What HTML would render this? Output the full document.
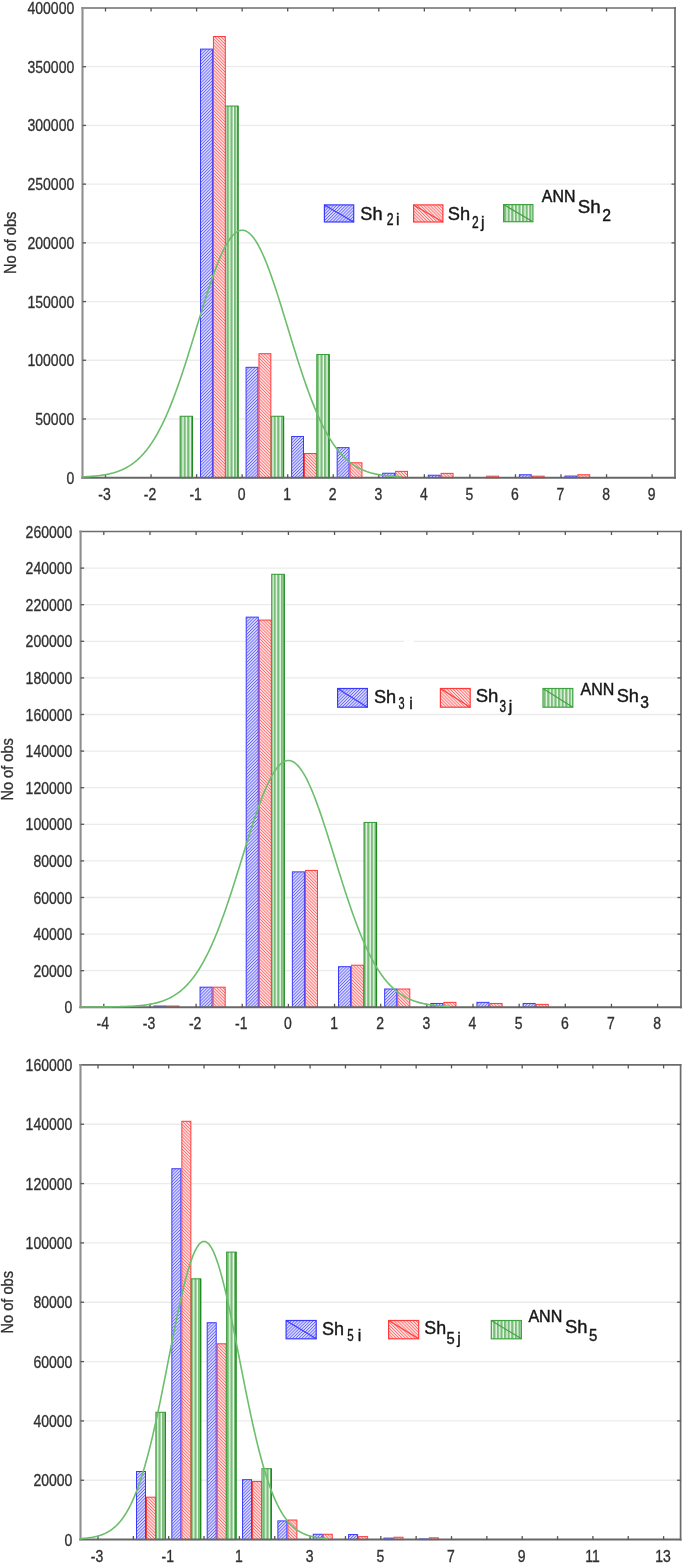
<!DOCTYPE html>
<html><head><meta charset="utf-8"><title>Histograms</title>
<style>html,body{margin:0;padding:0;background:#fff;}body{width:685px;height:1564px;overflow:hidden;}svg{display:block;filter:blur(0.45px);}text{font-family:"Liberation Sans", sans-serif;}</style>
</head><body>
<svg width="685" height="1564" viewBox="0 0 685 1564">
<defs>
<pattern id="pb" patternUnits="userSpaceOnUse" width="2.2" height="4" patternTransform="rotate(45)"><rect width="2.2" height="4" fill="#dcdcff"/><rect width="0.8" height="4" fill="#6262ff"/></pattern>
<pattern id="pr" patternUnits="userSpaceOnUse" width="2.2" height="4" patternTransform="rotate(-45)"><rect width="2.2" height="4" fill="#ffe2e2"/><rect width="0.8" height="4" fill="#ff6a6a"/></pattern>
<pattern id="pg" patternUnits="userSpaceOnUse" width="3.6" height="4"><rect width="3.6" height="4" fill="#f6fbf6"/><rect width="2.3" height="4" fill="#78be78"/></pattern>
</defs>
<rect x="0" y="0" width="685" height="1564" fill="#ffffff"/>
<line x1="82.5" y1="418.99" x2="675" y2="418.99" stroke="#ebebeb" stroke-width="1.3"/>
<line x1="82.5" y1="360.27" x2="675" y2="360.27" stroke="#ebebeb" stroke-width="1.3"/>
<line x1="82.5" y1="301.56" x2="675" y2="301.56" stroke="#ebebeb" stroke-width="1.3"/>
<line x1="82.5" y1="242.85" x2="675" y2="242.85" stroke="#ebebeb" stroke-width="1.3"/>
<line x1="82.5" y1="184.14" x2="675" y2="184.14" stroke="#ebebeb" stroke-width="1.3"/>
<line x1="82.5" y1="125.43" x2="675" y2="125.43" stroke="#ebebeb" stroke-width="1.3"/>
<line x1="82.5" y1="66.71" x2="675" y2="66.71" stroke="#ebebeb" stroke-width="1.3"/>
<rect x="180.15" y="416.29" width="12.29" height="61.41" fill="url(#pg)" stroke="#3f9f3f" stroke-width="1.1"/>
<line x1="192.44" y1="416.29" x2="192.44" y2="477.7" stroke="#1f8a1f" stroke-width="1.2"/>
<rect x="200.52" y="49.1" width="11.89" height="428.6" fill="url(#pb)" stroke="#3a3aff" stroke-width="1"/>
<rect x="213.41" y="36.53" width="11.89" height="441.17" fill="url(#pr)" stroke="#ff3a3a" stroke-width="1"/>
<rect x="225.7" y="106.05" width="12.29" height="371.65" fill="url(#pg)" stroke="#3f9f3f" stroke-width="1.1"/>
<line x1="237.99" y1="106.05" x2="237.99" y2="477.7" stroke="#1f8a1f" stroke-width="1.2"/>
<rect x="246.07" y="367.32" width="11.89" height="110.38" fill="url(#pb)" stroke="#3a3aff" stroke-width="1"/>
<rect x="258.96" y="353.7" width="11.89" height="124" fill="url(#pr)" stroke="#ff3a3a" stroke-width="1"/>
<rect x="271.25" y="416.29" width="12.29" height="61.41" fill="url(#pg)" stroke="#3f9f3f" stroke-width="1.1"/>
<line x1="283.54" y1="416.29" x2="283.54" y2="477.7" stroke="#1f8a1f" stroke-width="1.2"/>
<rect x="291.62" y="436.48" width="11.89" height="41.22" fill="url(#pb)" stroke="#3a3aff" stroke-width="1"/>
<rect x="304.51" y="453.51" width="11.89" height="24.19" fill="url(#pr)" stroke="#ff3a3a" stroke-width="1"/>
<rect x="316.8" y="354.52" width="12.29" height="123.18" fill="url(#pg)" stroke="#3f9f3f" stroke-width="1.1"/>
<line x1="329.09" y1="354.52" x2="329.09" y2="477.7" stroke="#1f8a1f" stroke-width="1.2"/>
<rect x="337.17" y="447.64" width="11.89" height="30.06" fill="url(#pb)" stroke="#3a3aff" stroke-width="1"/>
<rect x="350.06" y="462.79" width="11.89" height="14.91" fill="url(#pr)" stroke="#ff3a3a" stroke-width="1"/>
<rect x="382.72" y="473.24" width="11.89" height="4.46" fill="url(#pb)" stroke="#3a3aff" stroke-width="1"/>
<rect x="395.61" y="471.36" width="11.89" height="6.34" fill="url(#pr)" stroke="#ff3a3a" stroke-width="1"/>
<rect x="428.27" y="475.23" width="11.89" height="2.47" fill="url(#pb)" stroke="#3a3aff" stroke-width="1"/>
<rect x="441.16" y="473.36" width="11.89" height="4.34" fill="url(#pr)" stroke="#ff3a3a" stroke-width="1"/>
<rect x="486.71" y="476.17" width="11.89" height="1.53" fill="url(#pr)" stroke="#ff3a3a" stroke-width="1"/>
<rect x="519.37" y="474.76" width="11.89" height="2.94" fill="url(#pb)" stroke="#3a3aff" stroke-width="1"/>
<rect x="532.26" y="476.17" width="11.89" height="1.53" fill="url(#pr)" stroke="#ff3a3a" stroke-width="1"/>
<rect x="564.92" y="476.06" width="11.89" height="1.64" fill="url(#pb)" stroke="#3a3aff" stroke-width="1"/>
<rect x="577.81" y="474.76" width="11.89" height="2.94" fill="url(#pr)" stroke="#ff3a3a" stroke-width="1"/>
<line x1="81.3" y1="8" x2="675.8" y2="8" stroke="#6c6c6c" stroke-width="1.6"/>
<line x1="675" y1="7.1" x2="675" y2="478.7" stroke="#6a6a6a" stroke-width="1.7"/>
<line x1="81.3" y1="477.7" x2="675.85" y2="477.7" stroke="#676767" stroke-width="2"/>
<line x1="82.5" y1="7.1" x2="82.5" y2="478.7" stroke="#8e8e8e" stroke-width="2.1"/>
<line x1="105.5" y1="477.7" x2="105.5" y2="474.2" stroke="#555" stroke-width="1.3"/>
<line x1="105.5" y1="8" x2="105.5" y2="11.5" stroke="#555" stroke-width="1.3"/>
<line x1="151.05" y1="477.7" x2="151.05" y2="474.2" stroke="#555" stroke-width="1.3"/>
<line x1="151.05" y1="8" x2="151.05" y2="11.5" stroke="#555" stroke-width="1.3"/>
<line x1="196.6" y1="477.7" x2="196.6" y2="474.2" stroke="#555" stroke-width="1.3"/>
<line x1="196.6" y1="8" x2="196.6" y2="11.5" stroke="#555" stroke-width="1.3"/>
<line x1="242.15" y1="477.7" x2="242.15" y2="474.2" stroke="#555" stroke-width="1.3"/>
<line x1="242.15" y1="8" x2="242.15" y2="11.5" stroke="#555" stroke-width="1.3"/>
<line x1="287.7" y1="477.7" x2="287.7" y2="474.2" stroke="#555" stroke-width="1.3"/>
<line x1="287.7" y1="8" x2="287.7" y2="11.5" stroke="#555" stroke-width="1.3"/>
<line x1="333.25" y1="477.7" x2="333.25" y2="474.2" stroke="#555" stroke-width="1.3"/>
<line x1="333.25" y1="8" x2="333.25" y2="11.5" stroke="#555" stroke-width="1.3"/>
<line x1="378.8" y1="477.7" x2="378.8" y2="474.2" stroke="#555" stroke-width="1.3"/>
<line x1="378.8" y1="8" x2="378.8" y2="11.5" stroke="#555" stroke-width="1.3"/>
<line x1="424.35" y1="477.7" x2="424.35" y2="474.2" stroke="#555" stroke-width="1.3"/>
<line x1="424.35" y1="8" x2="424.35" y2="11.5" stroke="#555" stroke-width="1.3"/>
<line x1="469.9" y1="477.7" x2="469.9" y2="474.2" stroke="#555" stroke-width="1.3"/>
<line x1="469.9" y1="8" x2="469.9" y2="11.5" stroke="#555" stroke-width="1.3"/>
<line x1="515.45" y1="477.7" x2="515.45" y2="474.2" stroke="#555" stroke-width="1.3"/>
<line x1="515.45" y1="8" x2="515.45" y2="11.5" stroke="#555" stroke-width="1.3"/>
<line x1="561" y1="477.7" x2="561" y2="474.2" stroke="#555" stroke-width="1.3"/>
<line x1="561" y1="8" x2="561" y2="11.5" stroke="#555" stroke-width="1.3"/>
<line x1="606.55" y1="477.7" x2="606.55" y2="474.2" stroke="#555" stroke-width="1.3"/>
<line x1="606.55" y1="8" x2="606.55" y2="11.5" stroke="#555" stroke-width="1.3"/>
<line x1="652.1" y1="477.7" x2="652.1" y2="474.2" stroke="#555" stroke-width="1.3"/>
<line x1="652.1" y1="8" x2="652.1" y2="11.5" stroke="#555" stroke-width="1.3"/>
<line x1="82.5" y1="418.99" x2="86" y2="418.99" stroke="#555" stroke-width="1.3"/>
<line x1="675" y1="418.99" x2="671.5" y2="418.99" stroke="#555" stroke-width="1.3"/>
<line x1="82.5" y1="360.27" x2="86" y2="360.27" stroke="#555" stroke-width="1.3"/>
<line x1="675" y1="360.27" x2="671.5" y2="360.27" stroke="#555" stroke-width="1.3"/>
<line x1="82.5" y1="301.56" x2="86" y2="301.56" stroke="#555" stroke-width="1.3"/>
<line x1="675" y1="301.56" x2="671.5" y2="301.56" stroke="#555" stroke-width="1.3"/>
<line x1="82.5" y1="242.85" x2="86" y2="242.85" stroke="#555" stroke-width="1.3"/>
<line x1="675" y1="242.85" x2="671.5" y2="242.85" stroke="#555" stroke-width="1.3"/>
<line x1="82.5" y1="184.14" x2="86" y2="184.14" stroke="#555" stroke-width="1.3"/>
<line x1="675" y1="184.14" x2="671.5" y2="184.14" stroke="#555" stroke-width="1.3"/>
<line x1="82.5" y1="125.43" x2="86" y2="125.43" stroke="#555" stroke-width="1.3"/>
<line x1="675" y1="125.43" x2="671.5" y2="125.43" stroke="#555" stroke-width="1.3"/>
<line x1="82.5" y1="66.71" x2="86" y2="66.71" stroke="#555" stroke-width="1.3"/>
<line x1="675" y1="66.71" x2="671.5" y2="66.71" stroke="#555" stroke-width="1.3"/>
<polyline points="82.72,476.86 83.52,476.83 84.32,476.79 85.12,476.75 85.91,476.71 86.71,476.67 87.51,476.62 88.3,476.58 89.1,476.53 89.9,476.47 90.7,476.42 91.49,476.36 92.29,476.3 93.09,476.23 93.88,476.16 94.68,476.09 95.48,476.01 96.28,475.93 97.07,475.85 97.87,475.76 98.67,475.67 99.46,475.57 100.26,475.47 101.06,475.36 101.86,475.25 102.65,475.13 103.45,475 104.25,474.87 105.04,474.74 105.84,474.59 106.64,474.44 107.44,474.28 108.23,474.12 109.03,473.95 109.83,473.77 110.62,473.58 111.42,473.38 112.22,473.17 113.02,472.96 113.81,472.73 114.61,472.5 115.41,472.25 116.2,471.99 117,471.73 117.8,471.45 118.6,471.16 119.39,470.86 120.19,470.54 120.99,470.21 121.78,469.87 122.58,469.52 123.38,469.15 124.18,468.76 124.97,468.36 125.77,467.95 126.57,467.52 127.36,467.07 128.16,466.61 128.96,466.13 129.76,465.63 130.55,465.11 131.35,464.57 132.15,464.02 132.94,463.44 133.74,462.85 134.54,462.23 135.34,461.59 136.13,460.93 136.93,460.25 137.73,459.54 138.52,458.82 139.32,458.06 140.12,457.29 140.92,456.49 141.71,455.66 142.51,454.81 143.31,453.93 144.1,453.03 144.9,452.09 145.7,451.14 146.5,450.15 147.29,449.13 148.09,448.09 148.89,447.01 149.68,445.91 150.48,444.78 151.28,443.61 152.07,442.42 152.87,441.19 153.67,439.93 154.47,438.64 155.26,437.32 156.06,435.97 156.86,434.58 157.65,433.16 158.45,431.71 159.25,430.22 160.05,428.7 160.84,427.15 161.64,425.56 162.44,423.94 163.23,422.29 164.03,420.6 164.83,418.88 165.63,417.13 166.42,415.34 167.22,413.51 168.02,411.66 168.81,409.77 169.61,407.85 170.41,405.89 171.21,403.91 172,401.89 172.8,399.84 173.6,397.75 174.39,395.64 175.19,393.5 175.99,391.32 176.79,389.12 177.58,386.89 178.38,384.63 179.18,382.34 179.97,380.03 180.77,377.69 181.57,375.33 182.37,372.94 183.16,370.53 183.96,368.1 184.76,365.64 185.55,363.17 186.35,360.68 187.15,358.17 187.95,355.64 188.74,353.1 189.54,350.54 190.34,347.97 191.13,345.39 191.93,342.79 192.73,340.19 193.53,337.58 194.32,334.97 195.12,332.35 195.92,329.73 196.71,327.1 197.51,324.48 198.31,321.86 199.11,319.24 199.9,316.63 200.7,314.02 201.5,311.43 202.29,308.84 203.09,306.26 203.89,303.7 204.69,301.16 205.48,298.63 206.28,296.12 207.08,293.63 207.87,291.17 208.67,288.73 209.47,286.32 210.26,283.93 211.06,281.58 211.86,279.25 212.66,276.97 213.45,274.71 214.25,272.5 215.05,270.32 215.84,268.19 216.64,266.09 217.44,264.04 218.24,262.04 219.03,260.09 219.83,258.18 220.63,256.33 221.42,254.53 222.22,252.78 223.02,251.09 223.82,249.45 224.61,247.88 225.41,246.36 226.21,244.91 227,243.51 227.8,242.18 228.6,240.92 229.4,239.72 230.19,238.59 230.99,237.53 231.79,236.53 232.58,235.61 233.38,234.76 234.18,233.98 234.98,233.27 235.77,232.63 236.57,232.07 237.37,231.58 238.16,231.16 238.96,230.83 239.76,230.56 240.56,230.37 241.35,230.26 242.15,230.22 242.95,230.26 243.74,230.37 244.54,230.56 245.34,230.83 246.14,231.16 246.93,231.58 247.73,232.07 248.53,232.63 249.32,233.27 250.12,233.98 250.92,234.76 251.72,235.61 252.51,236.53 253.31,237.53 254.11,238.59 254.9,239.72 255.7,240.92 256.5,242.18 257.3,243.51 258.09,244.91 258.89,246.36 259.69,247.88 260.48,249.45 261.28,251.09 262.08,252.78 262.88,254.53 263.67,256.33 264.47,258.18 265.27,260.09 266.06,262.04 266.86,264.04 267.66,266.09 268.46,268.19 269.25,270.32 270.05,272.5 270.85,274.71 271.64,276.97 272.44,279.25 273.24,281.58 274.03,283.93 274.83,286.32 275.63,288.73 276.43,291.17 277.22,293.63 278.02,296.12 278.82,298.63 279.61,301.16 280.41,303.7 281.21,306.26 282.01,308.84 282.8,311.43 283.6,314.02 284.4,316.63 285.19,319.24 285.99,321.86 286.79,324.48 287.59,327.1 288.38,329.73 289.18,332.35 289.98,334.97 290.77,337.58 291.57,340.19 292.37,342.79 293.17,345.39 293.96,347.97 294.76,350.54 295.56,353.1 296.35,355.64 297.15,358.17 297.95,360.68 298.75,363.17 299.54,365.64 300.34,368.1 301.14,370.53 301.93,372.94 302.73,375.33 303.53,377.69 304.33,380.03 305.12,382.34 305.92,384.63 306.72,386.89 307.51,389.12 308.31,391.32 309.11,393.5 309.91,395.64 310.7,397.75 311.5,399.84 312.3,401.89 313.09,403.91 313.89,405.89 314.69,407.85 315.49,409.77 316.28,411.66 317.08,413.51 317.88,415.34 318.67,417.13 319.47,418.88 320.27,420.6 321.07,422.29 321.86,423.94 322.66,425.56 323.46,427.15 324.25,428.7 325.05,430.22 325.85,431.71 326.65,433.16 327.44,434.58 328.24,435.97 329.04,437.32 329.83,438.64 330.63,439.93 331.43,441.19 332.23,442.42 333.02,443.61 333.82,444.78 334.62,445.91 335.41,447.01 336.21,448.09 337.01,449.13 337.8,450.15 338.6,451.14 339.4,452.09 340.2,453.03 340.99,453.93 341.79,454.81 342.59,455.66 343.38,456.49 344.18,457.29 344.98,458.06 345.78,458.82 346.57,459.54 347.37,460.25 348.17,460.93 348.96,461.59 349.76,462.23 350.56,462.85 351.36,463.44 352.15,464.02 352.95,464.57 353.75,465.11 354.54,465.63 355.34,466.13 356.14,466.61 356.94,467.07 357.73,467.52 358.53,467.95 359.33,468.36 360.12,468.76 360.92,469.15 361.72,469.52 362.52,469.87 363.31,470.21 364.11,470.54 364.91,470.86 365.7,471.16 366.5,471.45 367.3,471.73 368.1,471.99 368.89,472.25 369.69,472.5 370.49,472.73 371.28,472.96 372.08,473.17 372.88,473.38 373.68,473.58 374.47,473.77 375.27,473.95 376.07,474.12 376.86,474.28 377.66,474.44 378.46,474.59 379.26,474.74 380.05,474.87 380.85,475 381.65,475.13 382.44,475.25 383.24,475.36 384.04,475.47 384.84,475.57 385.63,475.67 386.43,475.76 387.23,475.85 388.02,475.93 388.82,476.01 389.62,476.09 390.42,476.16 391.21,476.23 392.01,476.3 392.81,476.36 393.6,476.42 394.4,476.47 395.2,476.53 396,476.58 396.79,476.62 397.59,476.67 398.39,476.71 399.18,476.75 399.98,476.79 400.78,476.83 401.57,476.86" fill="none" stroke="#6cbe6c" stroke-width="1.6"/>
<text x="0" y="5.01" font-size="14" fill="#2e2e2e" stroke="#3a3a3a" stroke-width="0.3" text-anchor="end" transform="translate(74.2,477.7) scale(1,1.2)">0</text>
<text x="0" y="5.01" font-size="14" fill="#2e2e2e" stroke="#3a3a3a" stroke-width="0.3" text-anchor="end" transform="translate(74.2,418.99) scale(1,1.2)">50000</text>
<text x="0" y="5.01" font-size="14" fill="#2e2e2e" stroke="#3a3a3a" stroke-width="0.3" text-anchor="end" transform="translate(74.2,360.27) scale(1,1.2)">100000</text>
<text x="0" y="5.01" font-size="14" fill="#2e2e2e" stroke="#3a3a3a" stroke-width="0.3" text-anchor="end" transform="translate(74.2,301.56) scale(1,1.2)">150000</text>
<text x="0" y="5.01" font-size="14" fill="#2e2e2e" stroke="#3a3a3a" stroke-width="0.3" text-anchor="end" transform="translate(74.2,242.85) scale(1,1.2)">200000</text>
<text x="0" y="5.01" font-size="14" fill="#2e2e2e" stroke="#3a3a3a" stroke-width="0.3" text-anchor="end" transform="translate(74.2,184.14) scale(1,1.2)">250000</text>
<text x="0" y="5.01" font-size="14" fill="#2e2e2e" stroke="#3a3a3a" stroke-width="0.3" text-anchor="end" transform="translate(74.2,125.43) scale(1,1.2)">300000</text>
<text x="0" y="5.01" font-size="14" fill="#2e2e2e" stroke="#3a3a3a" stroke-width="0.3" text-anchor="end" transform="translate(74.2,66.71) scale(1,1.2)">350000</text>
<text x="0" y="5.01" font-size="14" fill="#2e2e2e" stroke="#3a3a3a" stroke-width="0.3" text-anchor="end" transform="translate(74.2,8) scale(1,1.2)">400000</text>
<text x="0" y="5.01" font-size="14" fill="#2e2e2e" stroke="#3a3a3a" stroke-width="0.3" text-anchor="middle" transform="translate(104.5,493.8) scale(1,1.2)">-3</text>
<text x="0" y="5.01" font-size="14" fill="#2e2e2e" stroke="#3a3a3a" stroke-width="0.3" text-anchor="middle" transform="translate(150.05,493.8) scale(1,1.2)">-2</text>
<text x="0" y="5.01" font-size="14" fill="#2e2e2e" stroke="#3a3a3a" stroke-width="0.3" text-anchor="middle" transform="translate(195.6,493.8) scale(1,1.2)">-1</text>
<text x="0" y="5.01" font-size="14" fill="#2e2e2e" stroke="#3a3a3a" stroke-width="0.3" text-anchor="middle" transform="translate(241.65,493.8) scale(1,1.2)">0</text>
<text x="0" y="5.01" font-size="14" fill="#2e2e2e" stroke="#3a3a3a" stroke-width="0.3" text-anchor="middle" transform="translate(287.2,493.8) scale(1,1.2)">1</text>
<text x="0" y="5.01" font-size="14" fill="#2e2e2e" stroke="#3a3a3a" stroke-width="0.3" text-anchor="middle" transform="translate(332.75,493.8) scale(1,1.2)">2</text>
<text x="0" y="5.01" font-size="14" fill="#2e2e2e" stroke="#3a3a3a" stroke-width="0.3" text-anchor="middle" transform="translate(378.3,493.8) scale(1,1.2)">3</text>
<text x="0" y="5.01" font-size="14" fill="#2e2e2e" stroke="#3a3a3a" stroke-width="0.3" text-anchor="middle" transform="translate(423.85,493.8) scale(1,1.2)">4</text>
<text x="0" y="5.01" font-size="14" fill="#2e2e2e" stroke="#3a3a3a" stroke-width="0.3" text-anchor="middle" transform="translate(469.4,493.8) scale(1,1.2)">5</text>
<text x="0" y="5.01" font-size="14" fill="#2e2e2e" stroke="#3a3a3a" stroke-width="0.3" text-anchor="middle" transform="translate(514.95,493.8) scale(1,1.2)">6</text>
<text x="0" y="5.01" font-size="14" fill="#2e2e2e" stroke="#3a3a3a" stroke-width="0.3" text-anchor="middle" transform="translate(560.5,493.8) scale(1,1.2)">7</text>
<text x="0" y="5.01" font-size="14" fill="#2e2e2e" stroke="#3a3a3a" stroke-width="0.3" text-anchor="middle" transform="translate(606.05,493.8) scale(1,1.2)">8</text>
<text x="0" y="5.01" font-size="14" fill="#2e2e2e" stroke="#3a3a3a" stroke-width="0.3" text-anchor="middle" transform="translate(651.6,493.8) scale(1,1.2)">9</text>
<text x="0" y="5.26" font-size="14.6" fill="#2e2e2e" stroke="#3a3a3a" stroke-width="0.3" text-anchor="middle" transform="translate(10.4,242.85) rotate(-90) scale(1,1.1)">No of obs</text>
<rect x="324.4" y="204.9" width="29.3" height="17.1" fill="url(#pb)" stroke="#3a3aff" stroke-width="1.2"/>
<line x1="324.4" y1="204.9" x2="353.7" y2="222" stroke="#3a3aff" stroke-width="1.1"/>
<rect x="413.6" y="204.9" width="29.3" height="17.1" fill="url(#pr)" stroke="#ff3a3a" stroke-width="1.2"/>
<line x1="413.6" y1="204.9" x2="442.9" y2="222" stroke="#ff3a3a" stroke-width="1.1"/>
<rect x="503.6" y="204.6" width="29.3" height="17.1" fill="url(#pg)" stroke="#3fa33f" stroke-width="1.2"/>
<line x1="503.6" y1="204.6" x2="532.9" y2="221.7" stroke="#3fa33f" stroke-width="1.1"/>
<text x="360.34" y="219.5" font-size="18.6" fill="#161616" stroke="#161616" stroke-width="0.4" textLength="22.25" lengthAdjust="spacingAndGlyphs">Sh</text>
<text x="386.69" y="225.4" font-size="15.8" fill="#161616" stroke="#161616" stroke-width="0.4" textLength="6.8" lengthAdjust="spacingAndGlyphs">2</text>
<text x="395.99" y="225.4" font-size="15.8" fill="#161616" stroke="#161616" stroke-width="0.4">i</text>
<text x="447.84" y="219.5" font-size="18.6" fill="#161616" stroke="#161616" stroke-width="0.4" textLength="22.36" lengthAdjust="spacingAndGlyphs">Sh</text>
<text x="472.1" y="228.3" font-size="15.8" fill="#161616" stroke="#161616" stroke-width="0.4" textLength="6.68" lengthAdjust="spacingAndGlyphs">2</text>
<text x="480.95" y="228.3" font-size="15.8" fill="#161616" stroke="#161616" stroke-width="0.4">j</text>
<text x="541.8" y="202" font-size="15.7" fill="#161616" stroke="#161616" stroke-width="0.4" textLength="33.57" lengthAdjust="spacingAndGlyphs">ANN</text>
<text x="577.82" y="213.3" font-size="18.6" fill="#161616" stroke="#161616" stroke-width="0.4" textLength="22.91" lengthAdjust="spacingAndGlyphs">Sh</text>
<text x="602.21" y="220.9" font-size="15.8" fill="#161616" stroke="#161616" stroke-width="0.4" textLength="8.78" lengthAdjust="spacingAndGlyphs">2</text>
<line x1="80.6" y1="970.7" x2="681" y2="970.7" stroke="#ebebeb" stroke-width="1.3"/>
<line x1="80.6" y1="934.1" x2="681" y2="934.1" stroke="#ebebeb" stroke-width="1.3"/>
<line x1="80.6" y1="897.5" x2="681" y2="897.5" stroke="#ebebeb" stroke-width="1.3"/>
<line x1="80.6" y1="860.9" x2="681" y2="860.9" stroke="#ebebeb" stroke-width="1.3"/>
<line x1="80.6" y1="824.3" x2="681" y2="824.3" stroke="#ebebeb" stroke-width="1.3"/>
<line x1="80.6" y1="787.7" x2="681" y2="787.7" stroke="#ebebeb" stroke-width="1.3"/>
<line x1="80.6" y1="751.1" x2="681" y2="751.1" stroke="#ebebeb" stroke-width="1.3"/>
<line x1="80.6" y1="714.5" x2="681" y2="714.5" stroke="#ebebeb" stroke-width="1.3"/>
<line x1="80.6" y1="677.9" x2="681" y2="677.9" stroke="#ebebeb" stroke-width="1.3"/>
<line x1="80.6" y1="641.3" x2="681" y2="641.3" stroke="#ebebeb" stroke-width="1.3"/>
<line x1="80.6" y1="604.7" x2="681" y2="604.7" stroke="#ebebeb" stroke-width="1.3"/>
<line x1="80.6" y1="568.1" x2="681" y2="568.1" stroke="#ebebeb" stroke-width="1.3"/>
<rect x="404" y="640.5" width="9.9" height="3" fill="#fff"/>
<rect x="153.91" y="1006.02" width="12.06" height="1.28" fill="url(#pb)" stroke="#3a3aff" stroke-width="1"/>
<rect x="166.97" y="1006.02" width="12.06" height="1.28" fill="url(#pr)" stroke="#ff3a3a" stroke-width="1"/>
<rect x="200.06" y="987.17" width="12.06" height="20.13" fill="url(#pb)" stroke="#3a3aff" stroke-width="1"/>
<rect x="213.12" y="987.17" width="12.06" height="20.13" fill="url(#pr)" stroke="#ff3a3a" stroke-width="1"/>
<rect x="246.21" y="617.14" width="12.06" height="390.16" fill="url(#pb)" stroke="#3a3aff" stroke-width="1"/>
<rect x="259.27" y="620.07" width="12.06" height="387.23" fill="url(#pr)" stroke="#ff3a3a" stroke-width="1"/>
<rect x="271.73" y="574.32" width="12.46" height="432.98" fill="url(#pg)" stroke="#3f9f3f" stroke-width="1.1"/>
<line x1="284.19" y1="574.32" x2="284.19" y2="1007.3" stroke="#1f8a1f" stroke-width="1.2"/>
<rect x="292.36" y="871.88" width="12.06" height="135.42" fill="url(#pb)" stroke="#3a3aff" stroke-width="1"/>
<rect x="305.42" y="870.42" width="12.06" height="136.88" fill="url(#pr)" stroke="#ff3a3a" stroke-width="1"/>
<rect x="338.51" y="966.67" width="12.06" height="40.63" fill="url(#pb)" stroke="#3a3aff" stroke-width="1"/>
<rect x="351.57" y="965.21" width="12.06" height="42.09" fill="url(#pr)" stroke="#ff3a3a" stroke-width="1"/>
<rect x="364.03" y="822.47" width="12.46" height="184.83" fill="url(#pg)" stroke="#3f9f3f" stroke-width="1.1"/>
<line x1="376.49" y1="822.47" x2="376.49" y2="1007.3" stroke="#1f8a1f" stroke-width="1.2"/>
<rect x="384.66" y="989" width="12.06" height="18.3" fill="url(#pb)" stroke="#3a3aff" stroke-width="1"/>
<rect x="397.72" y="989" width="12.06" height="18.3" fill="url(#pr)" stroke="#ff3a3a" stroke-width="1"/>
<rect x="430.81" y="1003.46" width="12.06" height="3.84" fill="url(#pb)" stroke="#3a3aff" stroke-width="1"/>
<rect x="443.87" y="1002.36" width="12.06" height="4.94" fill="url(#pr)" stroke="#ff3a3a" stroke-width="1"/>
<rect x="476.96" y="1002.36" width="12.06" height="4.94" fill="url(#pb)" stroke="#3a3aff" stroke-width="1"/>
<rect x="490.02" y="1003.46" width="12.06" height="3.84" fill="url(#pr)" stroke="#ff3a3a" stroke-width="1"/>
<rect x="523.11" y="1003.46" width="12.06" height="3.84" fill="url(#pb)" stroke="#3a3aff" stroke-width="1"/>
<rect x="536.17" y="1004.37" width="12.06" height="2.93" fill="url(#pr)" stroke="#ff3a3a" stroke-width="1"/>
<line x1="79.4" y1="531.5" x2="681.8" y2="531.5" stroke="#6c6c6c" stroke-width="1.6"/>
<line x1="681" y1="530.6" x2="681" y2="1008.3" stroke="#6a6a6a" stroke-width="1.7"/>
<line x1="79.4" y1="1007.3" x2="681.85" y2="1007.3" stroke="#676767" stroke-width="2"/>
<line x1="80.6" y1="530.6" x2="80.6" y2="1008.3" stroke="#8e8e8e" stroke-width="2.1"/>
<line x1="103.8" y1="1007.3" x2="103.8" y2="1003.8" stroke="#555" stroke-width="1.3"/>
<line x1="103.8" y1="531.5" x2="103.8" y2="535" stroke="#555" stroke-width="1.3"/>
<line x1="149.95" y1="1007.3" x2="149.95" y2="1003.8" stroke="#555" stroke-width="1.3"/>
<line x1="149.95" y1="531.5" x2="149.95" y2="535" stroke="#555" stroke-width="1.3"/>
<line x1="196.1" y1="1007.3" x2="196.1" y2="1003.8" stroke="#555" stroke-width="1.3"/>
<line x1="196.1" y1="531.5" x2="196.1" y2="535" stroke="#555" stroke-width="1.3"/>
<line x1="242.25" y1="1007.3" x2="242.25" y2="1003.8" stroke="#555" stroke-width="1.3"/>
<line x1="242.25" y1="531.5" x2="242.25" y2="535" stroke="#555" stroke-width="1.3"/>
<line x1="288.4" y1="1007.3" x2="288.4" y2="1003.8" stroke="#555" stroke-width="1.3"/>
<line x1="288.4" y1="531.5" x2="288.4" y2="535" stroke="#555" stroke-width="1.3"/>
<line x1="334.55" y1="1007.3" x2="334.55" y2="1003.8" stroke="#555" stroke-width="1.3"/>
<line x1="334.55" y1="531.5" x2="334.55" y2="535" stroke="#555" stroke-width="1.3"/>
<line x1="380.7" y1="1007.3" x2="380.7" y2="1003.8" stroke="#555" stroke-width="1.3"/>
<line x1="380.7" y1="531.5" x2="380.7" y2="535" stroke="#555" stroke-width="1.3"/>
<line x1="426.85" y1="1007.3" x2="426.85" y2="1003.8" stroke="#555" stroke-width="1.3"/>
<line x1="426.85" y1="531.5" x2="426.85" y2="535" stroke="#555" stroke-width="1.3"/>
<line x1="473" y1="1007.3" x2="473" y2="1003.8" stroke="#555" stroke-width="1.3"/>
<line x1="473" y1="531.5" x2="473" y2="535" stroke="#555" stroke-width="1.3"/>
<line x1="519.15" y1="1007.3" x2="519.15" y2="1003.8" stroke="#555" stroke-width="1.3"/>
<line x1="519.15" y1="531.5" x2="519.15" y2="535" stroke="#555" stroke-width="1.3"/>
<line x1="565.3" y1="1007.3" x2="565.3" y2="1003.8" stroke="#555" stroke-width="1.3"/>
<line x1="565.3" y1="531.5" x2="565.3" y2="535" stroke="#555" stroke-width="1.3"/>
<line x1="611.45" y1="1007.3" x2="611.45" y2="1003.8" stroke="#555" stroke-width="1.3"/>
<line x1="611.45" y1="531.5" x2="611.45" y2="535" stroke="#555" stroke-width="1.3"/>
<line x1="657.6" y1="1007.3" x2="657.6" y2="1003.8" stroke="#555" stroke-width="1.3"/>
<line x1="657.6" y1="531.5" x2="657.6" y2="535" stroke="#555" stroke-width="1.3"/>
<line x1="80.6" y1="970.7" x2="84.1" y2="970.7" stroke="#555" stroke-width="1.3"/>
<line x1="681" y1="970.7" x2="677.5" y2="970.7" stroke="#555" stroke-width="1.3"/>
<line x1="80.6" y1="934.1" x2="84.1" y2="934.1" stroke="#555" stroke-width="1.3"/>
<line x1="681" y1="934.1" x2="677.5" y2="934.1" stroke="#555" stroke-width="1.3"/>
<line x1="80.6" y1="897.5" x2="84.1" y2="897.5" stroke="#555" stroke-width="1.3"/>
<line x1="681" y1="897.5" x2="677.5" y2="897.5" stroke="#555" stroke-width="1.3"/>
<line x1="80.6" y1="860.9" x2="84.1" y2="860.9" stroke="#555" stroke-width="1.3"/>
<line x1="681" y1="860.9" x2="677.5" y2="860.9" stroke="#555" stroke-width="1.3"/>
<line x1="80.6" y1="824.3" x2="84.1" y2="824.3" stroke="#555" stroke-width="1.3"/>
<line x1="681" y1="824.3" x2="677.5" y2="824.3" stroke="#555" stroke-width="1.3"/>
<line x1="80.6" y1="787.7" x2="84.1" y2="787.7" stroke="#555" stroke-width="1.3"/>
<line x1="681" y1="787.7" x2="677.5" y2="787.7" stroke="#555" stroke-width="1.3"/>
<line x1="80.6" y1="751.1" x2="84.1" y2="751.1" stroke="#555" stroke-width="1.3"/>
<line x1="681" y1="751.1" x2="677.5" y2="751.1" stroke="#555" stroke-width="1.3"/>
<line x1="80.6" y1="714.5" x2="84.1" y2="714.5" stroke="#555" stroke-width="1.3"/>
<line x1="681" y1="714.5" x2="677.5" y2="714.5" stroke="#555" stroke-width="1.3"/>
<line x1="80.6" y1="677.9" x2="84.1" y2="677.9" stroke="#555" stroke-width="1.3"/>
<line x1="681" y1="677.9" x2="677.5" y2="677.9" stroke="#555" stroke-width="1.3"/>
<line x1="80.6" y1="641.3" x2="84.1" y2="641.3" stroke="#555" stroke-width="1.3"/>
<line x1="681" y1="641.3" x2="677.5" y2="641.3" stroke="#555" stroke-width="1.3"/>
<line x1="80.6" y1="604.7" x2="84.1" y2="604.7" stroke="#555" stroke-width="1.3"/>
<line x1="681" y1="604.7" x2="677.5" y2="604.7" stroke="#555" stroke-width="1.3"/>
<line x1="80.6" y1="568.1" x2="84.1" y2="568.1" stroke="#555" stroke-width="1.3"/>
<line x1="681" y1="568.1" x2="677.5" y2="568.1" stroke="#555" stroke-width="1.3"/>
<polyline points="80.72,1006.99 81.65,1006.99 82.57,1006.99 83.49,1006.99 84.42,1006.99 85.34,1006.98 86.26,1006.98 87.19,1006.98 88.11,1006.98 89.03,1006.98 89.96,1006.98 90.88,1006.97 91.8,1006.97 92.72,1006.97 93.65,1006.97 94.57,1006.96 95.49,1006.96 96.42,1006.96 97.34,1006.95 98.26,1006.95 99.19,1006.94 100.11,1006.94 101.03,1006.94 101.95,1006.93 102.88,1006.92 103.8,1006.92 104.72,1006.91 105.65,1006.9 106.57,1006.9 107.49,1006.89 108.42,1006.88 109.34,1006.87 110.26,1006.86 111.18,1006.85 112.11,1006.83 113.03,1006.82 113.95,1006.81 114.88,1006.79 115.8,1006.77 116.72,1006.76 117.64,1006.74 118.57,1006.72 119.49,1006.7 120.41,1006.67 121.34,1006.65 122.26,1006.62 123.18,1006.59 124.11,1006.56 125.03,1006.53 125.95,1006.5 126.88,1006.46 127.8,1006.42 128.72,1006.38 129.64,1006.34 130.57,1006.29 131.49,1006.24 132.41,1006.19 133.34,1006.13 134.26,1006.07 135.18,1006 136.11,1005.94 137.03,1005.86 137.95,1005.79 138.87,1005.7 139.8,1005.62 140.72,1005.53 141.64,1005.43 142.57,1005.33 143.49,1005.22 144.41,1005.1 145.33,1004.98 146.26,1004.85 147.18,1004.72 148.1,1004.57 149.03,1004.42 149.95,1004.26 150.87,1004.09 151.8,1003.91 152.72,1003.73 153.64,1003.53 154.56,1003.32 155.49,1003.1 156.41,1002.87 157.33,1002.63 158.26,1002.38 159.18,1002.11 160.1,1001.83 161.03,1001.53 161.95,1001.22 162.87,1000.9 163.79,1000.56 164.72,1000.21 165.64,999.83 166.56,999.44 167.49,999.03 168.41,998.61 169.33,998.16 170.26,997.69 171.18,997.21 172.1,996.7 173.02,996.17 173.95,995.62 174.87,995.04 175.79,994.44 176.72,993.81 177.64,993.16 178.56,992.49 179.49,991.78 180.41,991.05 181.33,990.29 182.25,989.5 183.18,988.68 184.1,987.83 185.02,986.94 185.95,986.03 186.87,985.08 187.79,984.1 188.72,983.08 189.64,982.03 190.56,980.95 191.48,979.82 192.41,978.66 193.33,977.47 194.25,976.23 195.18,974.95 196.1,973.64 197.02,972.29 197.95,970.89 198.87,969.45 199.79,967.98 200.72,966.46 201.64,964.9 202.56,963.29 203.48,961.64 204.41,959.95 205.33,958.22 206.25,956.44 207.18,954.62 208.1,952.75 209.02,950.84 209.94,948.89 210.87,946.89 211.79,944.85 212.71,942.76 213.64,940.64 214.56,938.46 215.48,936.25 216.41,933.99 217.33,931.69 218.25,929.35 219.18,926.97 220.1,924.55 221.02,922.09 221.94,919.59 222.87,917.06 223.79,914.49 224.71,911.88 225.64,909.24 226.56,906.56 227.48,903.85 228.41,901.11 229.33,898.35 230.25,895.55 231.17,892.73 232.1,889.88 233.02,887.02 233.94,884.13 234.87,881.22 235.79,878.29 236.71,875.35 237.63,872.39 238.56,869.43 239.48,866.45 240.4,863.47 241.33,860.48 242.25,857.49 243.17,854.5 244.1,851.51 245.02,848.53 245.94,845.55 246.87,842.59 247.79,839.64 248.71,836.7 249.63,833.78 250.56,830.88 251.48,828 252.4,825.15 253.33,822.33 254.25,819.54 255.17,816.78 256.09,814.06 257.02,811.38 257.94,808.74 258.86,806.15 259.79,803.6 260.71,801.11 261.63,798.66 262.56,796.27 263.48,793.94 264.4,791.67 265.32,789.46 266.25,787.32 267.17,785.25 268.09,783.24 269.02,781.31 269.94,779.45 270.86,777.67 271.79,775.97 272.71,774.34 273.63,772.8 274.56,771.35 275.48,769.97 276.4,768.69 277.32,767.5 278.25,766.39 279.17,765.38 280.09,764.46 281.02,763.63 281.94,762.9 282.86,762.27 283.79,761.73 284.71,761.29 285.63,760.94 286.55,760.7 287.48,760.55 288.4,760.5 289.32,760.55 290.25,760.7 291.17,760.94 292.09,761.29 293.01,761.73 293.94,762.27 294.86,762.9 295.78,763.63 296.71,764.46 297.63,765.38 298.55,766.39 299.48,767.5 300.4,768.69 301.32,769.97 302.25,771.35 303.17,772.8 304.09,774.34 305.01,775.97 305.94,777.67 306.86,779.45 307.78,781.31 308.71,783.24 309.63,785.25 310.55,787.32 311.47,789.46 312.4,791.67 313.32,793.94 314.24,796.27 315.17,798.66 316.09,801.11 317.01,803.6 317.94,806.15 318.86,808.74 319.78,811.38 320.7,814.06 321.63,816.78 322.55,819.54 323.47,822.33 324.4,825.15 325.32,828 326.24,830.88 327.17,833.78 328.09,836.7 329.01,839.64 329.94,842.59 330.86,845.55 331.78,848.53 332.7,851.51 333.63,854.5 334.55,857.49 335.47,860.48 336.4,863.47 337.32,866.45 338.24,869.43 339.16,872.39 340.09,875.35 341.01,878.29 341.93,881.22 342.86,884.13 343.78,887.02 344.7,889.88 345.63,892.73 346.55,895.55 347.47,898.35 348.39,901.11 349.32,903.85 350.24,906.56 351.16,909.24 352.09,911.88 353.01,914.49 353.93,917.06 354.86,919.59 355.78,922.09 356.7,924.55 357.62,926.97 358.55,929.35 359.47,931.69 360.39,933.99 361.32,936.25 362.24,938.46 363.16,940.64 364.09,942.76 365.01,944.85 365.93,946.89 366.86,948.89 367.78,950.84 368.7,952.75 369.62,954.62 370.55,956.44 371.47,958.22 372.39,959.95 373.32,961.64 374.24,963.29 375.16,964.9 376.09,966.46 377.01,967.98 377.93,969.45 378.85,970.89 379.78,972.29 380.7,973.64 381.62,974.95 382.55,976.23 383.47,977.47 384.39,978.66 385.31,979.82 386.24,980.95 387.16,982.03 388.08,983.08 389.01,984.1 389.93,985.08 390.85,986.03 391.78,986.94 392.7,987.83 393.62,988.68 394.55,989.5 395.47,990.29 396.39,991.05 397.31,991.78 398.24,992.49 399.16,993.16 400.08,993.81 401.01,994.44 401.93,995.04 402.85,995.62 403.77,996.17 404.7,996.7 405.62,997.21 406.54,997.69 407.47,998.16 408.39,998.61 409.31,999.03 410.24,999.44 411.16,999.83 412.08,1000.21 413,1000.56 413.93,1000.9 414.85,1001.22 415.77,1001.53 416.7,1001.83 417.62,1002.11 418.54,1002.38 419.47,1002.63 420.39,1002.87 421.31,1003.1 422.24,1003.32 423.16,1003.53 424.08,1003.73 425,1003.91 425.93,1004.09 426.85,1004.26 427.77,1004.42 428.7,1004.57 429.62,1004.72 430.54,1004.85 431.46,1004.98 432.39,1005.1 433.31,1005.22 434.23,1005.33 435.16,1005.43 436.08,1005.53 437,1005.62 437.93,1005.7 438.85,1005.79 439.77,1005.86 440.69,1005.94 441.62,1006 442.54,1006.07 443.46,1006.13 444.39,1006.19 445.31,1006.24 446.23,1006.29 447.16,1006.34 448.08,1006.38 449,1006.42 449.93,1006.46" fill="none" stroke="#6cbe6c" stroke-width="1.6"/>
<text x="0" y="5.01" font-size="14" fill="#2e2e2e" stroke="#3a3a3a" stroke-width="0.3" text-anchor="end" transform="translate(72.3,1007.3) scale(1,1.2)">0</text>
<text x="0" y="5.01" font-size="14" fill="#2e2e2e" stroke="#3a3a3a" stroke-width="0.3" text-anchor="end" transform="translate(72.3,970.7) scale(1,1.2)">20000</text>
<text x="0" y="5.01" font-size="14" fill="#2e2e2e" stroke="#3a3a3a" stroke-width="0.3" text-anchor="end" transform="translate(72.3,934.1) scale(1,1.2)">40000</text>
<text x="0" y="5.01" font-size="14" fill="#2e2e2e" stroke="#3a3a3a" stroke-width="0.3" text-anchor="end" transform="translate(72.3,897.5) scale(1,1.2)">60000</text>
<text x="0" y="5.01" font-size="14" fill="#2e2e2e" stroke="#3a3a3a" stroke-width="0.3" text-anchor="end" transform="translate(72.3,860.9) scale(1,1.2)">80000</text>
<text x="0" y="5.01" font-size="14" fill="#2e2e2e" stroke="#3a3a3a" stroke-width="0.3" text-anchor="end" transform="translate(72.3,824.3) scale(1,1.2)">100000</text>
<text x="0" y="5.01" font-size="14" fill="#2e2e2e" stroke="#3a3a3a" stroke-width="0.3" text-anchor="end" transform="translate(72.3,787.7) scale(1,1.2)">120000</text>
<text x="0" y="5.01" font-size="14" fill="#2e2e2e" stroke="#3a3a3a" stroke-width="0.3" text-anchor="end" transform="translate(72.3,751.1) scale(1,1.2)">140000</text>
<text x="0" y="5.01" font-size="14" fill="#2e2e2e" stroke="#3a3a3a" stroke-width="0.3" text-anchor="end" transform="translate(72.3,714.5) scale(1,1.2)">160000</text>
<text x="0" y="5.01" font-size="14" fill="#2e2e2e" stroke="#3a3a3a" stroke-width="0.3" text-anchor="end" transform="translate(72.3,677.9) scale(1,1.2)">180000</text>
<text x="0" y="5.01" font-size="14" fill="#2e2e2e" stroke="#3a3a3a" stroke-width="0.3" text-anchor="end" transform="translate(72.3,641.3) scale(1,1.2)">200000</text>
<text x="0" y="5.01" font-size="14" fill="#2e2e2e" stroke="#3a3a3a" stroke-width="0.3" text-anchor="end" transform="translate(72.3,604.7) scale(1,1.2)">220000</text>
<text x="0" y="5.01" font-size="14" fill="#2e2e2e" stroke="#3a3a3a" stroke-width="0.3" text-anchor="end" transform="translate(72.3,568.1) scale(1,1.2)">240000</text>
<text x="0" y="5.01" font-size="14" fill="#2e2e2e" stroke="#3a3a3a" stroke-width="0.3" text-anchor="end" transform="translate(72.3,531.5) scale(1,1.2)">260000</text>
<text x="0" y="5.01" font-size="14" fill="#2e2e2e" stroke="#3a3a3a" stroke-width="0.3" text-anchor="middle" transform="translate(102.8,1023.4) scale(1,1.2)">-4</text>
<text x="0" y="5.01" font-size="14" fill="#2e2e2e" stroke="#3a3a3a" stroke-width="0.3" text-anchor="middle" transform="translate(148.95,1023.4) scale(1,1.2)">-3</text>
<text x="0" y="5.01" font-size="14" fill="#2e2e2e" stroke="#3a3a3a" stroke-width="0.3" text-anchor="middle" transform="translate(195.1,1023.4) scale(1,1.2)">-2</text>
<text x="0" y="5.01" font-size="14" fill="#2e2e2e" stroke="#3a3a3a" stroke-width="0.3" text-anchor="middle" transform="translate(241.25,1023.4) scale(1,1.2)">-1</text>
<text x="0" y="5.01" font-size="14" fill="#2e2e2e" stroke="#3a3a3a" stroke-width="0.3" text-anchor="middle" transform="translate(287.9,1023.4) scale(1,1.2)">0</text>
<text x="0" y="5.01" font-size="14" fill="#2e2e2e" stroke="#3a3a3a" stroke-width="0.3" text-anchor="middle" transform="translate(334.05,1023.4) scale(1,1.2)">1</text>
<text x="0" y="5.01" font-size="14" fill="#2e2e2e" stroke="#3a3a3a" stroke-width="0.3" text-anchor="middle" transform="translate(380.2,1023.4) scale(1,1.2)">2</text>
<text x="0" y="5.01" font-size="14" fill="#2e2e2e" stroke="#3a3a3a" stroke-width="0.3" text-anchor="middle" transform="translate(426.35,1023.4) scale(1,1.2)">3</text>
<text x="0" y="5.01" font-size="14" fill="#2e2e2e" stroke="#3a3a3a" stroke-width="0.3" text-anchor="middle" transform="translate(472.5,1023.4) scale(1,1.2)">4</text>
<text x="0" y="5.01" font-size="14" fill="#2e2e2e" stroke="#3a3a3a" stroke-width="0.3" text-anchor="middle" transform="translate(518.65,1023.4) scale(1,1.2)">5</text>
<text x="0" y="5.01" font-size="14" fill="#2e2e2e" stroke="#3a3a3a" stroke-width="0.3" text-anchor="middle" transform="translate(564.8,1023.4) scale(1,1.2)">6</text>
<text x="0" y="5.01" font-size="14" fill="#2e2e2e" stroke="#3a3a3a" stroke-width="0.3" text-anchor="middle" transform="translate(610.95,1023.4) scale(1,1.2)">7</text>
<text x="0" y="5.01" font-size="14" fill="#2e2e2e" stroke="#3a3a3a" stroke-width="0.3" text-anchor="middle" transform="translate(657.1,1023.4) scale(1,1.2)">8</text>
<text x="0" y="5.26" font-size="14.6" fill="#2e2e2e" stroke="#3a3a3a" stroke-width="0.3" text-anchor="middle" transform="translate(7.6,769.4) rotate(-90) scale(1,1.1)">No of obs</text>
<rect x="337.6" y="688.5" width="29.8" height="18.7" fill="url(#pb)" stroke="#3a3aff" stroke-width="1.2"/>
<line x1="337.6" y1="688.5" x2="367.4" y2="707.2" stroke="#3a3aff" stroke-width="1.1"/>
<rect x="440.4" y="688.5" width="29.8" height="18.7" fill="url(#pr)" stroke="#ff3a3a" stroke-width="1.2"/>
<line x1="440.4" y1="688.5" x2="470.2" y2="707.2" stroke="#ff3a3a" stroke-width="1.1"/>
<rect x="543" y="688.5" width="29.8" height="18.7" fill="url(#pg)" stroke="#3fa33f" stroke-width="1.2"/>
<line x1="543" y1="688.5" x2="572.8" y2="707.2" stroke="#3fa33f" stroke-width="1.1"/>
<text x="373.94" y="703.2" font-size="18.6" fill="#161616" stroke="#161616" stroke-width="0.4" textLength="22.25" lengthAdjust="spacingAndGlyphs">Sh</text>
<text x="398.45" y="709.4" font-size="15.8" fill="#161616" stroke="#161616" stroke-width="0.4" textLength="6.08" lengthAdjust="spacingAndGlyphs">3</text>
<text x="409.34" y="709.4" font-size="15.8" fill="#161616" stroke="#161616" stroke-width="0.4">i</text>
<text x="475.73" y="701.8" font-size="18.6" fill="#161616" stroke="#161616" stroke-width="0.4" textLength="22.69" lengthAdjust="spacingAndGlyphs">Sh</text>
<text x="499.51" y="712.4" font-size="15.8" fill="#161616" stroke="#161616" stroke-width="0.4" textLength="6.56" lengthAdjust="spacingAndGlyphs">3</text>
<text x="508.8" y="712.4" font-size="15.8" fill="#161616" stroke="#161616" stroke-width="0.4">j</text>
<text x="580.5" y="694.6" font-size="15.7" fill="#161616" stroke="#161616" stroke-width="0.4" textLength="33.77" lengthAdjust="spacingAndGlyphs">ANN</text>
<text x="616.64" y="701.8" font-size="18.6" fill="#161616" stroke="#161616" stroke-width="0.4" textLength="22.25" lengthAdjust="spacingAndGlyphs">Sh</text>
<text x="640.22" y="708" font-size="15.8" fill="#161616" stroke="#161616" stroke-width="0.4" textLength="8.7" lengthAdjust="spacingAndGlyphs">3</text>
<line x1="80.5" y1="1480.26" x2="680.6" y2="1480.26" stroke="#ebebeb" stroke-width="1.3"/>
<line x1="80.5" y1="1420.92" x2="680.6" y2="1420.92" stroke="#ebebeb" stroke-width="1.3"/>
<line x1="80.5" y1="1361.59" x2="680.6" y2="1361.59" stroke="#ebebeb" stroke-width="1.3"/>
<line x1="80.5" y1="1302.25" x2="680.6" y2="1302.25" stroke="#ebebeb" stroke-width="1.3"/>
<line x1="80.5" y1="1242.91" x2="680.6" y2="1242.91" stroke="#ebebeb" stroke-width="1.3"/>
<line x1="80.5" y1="1183.58" x2="680.6" y2="1183.58" stroke="#ebebeb" stroke-width="1.3"/>
<line x1="80.5" y1="1124.24" x2="680.6" y2="1124.24" stroke="#ebebeb" stroke-width="1.3"/>
<rect x="136.5" y="1471.51" width="9" height="68.09" fill="url(#pb)" stroke="#3a3aff" stroke-width="1"/>
<rect x="146.51" y="1497.17" width="9" height="42.43" fill="url(#pr)" stroke="#ff3a3a" stroke-width="1"/>
<rect x="155.91" y="1412.32" width="9.4" height="127.28" fill="url(#pg)" stroke="#3f9f3f" stroke-width="1.1"/>
<line x1="165.31" y1="1412.32" x2="165.31" y2="1539.6" stroke="#1f8a1f" stroke-width="1.2"/>
<rect x="171.85" y="1168.74" width="9" height="370.86" fill="url(#pb)" stroke="#3a3aff" stroke-width="1"/>
<rect x="181.86" y="1121.27" width="9" height="418.33" fill="url(#pr)" stroke="#ff3a3a" stroke-width="1"/>
<rect x="191.26" y="1278.81" width="9.4" height="260.79" fill="url(#pg)" stroke="#3f9f3f" stroke-width="1.1"/>
<line x1="200.66" y1="1278.81" x2="200.66" y2="1539.6" stroke="#1f8a1f" stroke-width="1.2"/>
<rect x="207.2" y="1322.72" width="9" height="216.88" fill="url(#pb)" stroke="#3a3aff" stroke-width="1"/>
<rect x="217.21" y="1343.79" width="9" height="195.81" fill="url(#pr)" stroke="#ff3a3a" stroke-width="1"/>
<rect x="226.61" y="1252.11" width="9.4" height="287.49" fill="url(#pg)" stroke="#3f9f3f" stroke-width="1.1"/>
<line x1="236.01" y1="1252.11" x2="236.01" y2="1539.6" stroke="#1f8a1f" stroke-width="1.2"/>
<rect x="242.55" y="1479.67" width="9" height="59.93" fill="url(#pb)" stroke="#3a3aff" stroke-width="1"/>
<rect x="252.56" y="1481.45" width="9" height="58.15" fill="url(#pr)" stroke="#ff3a3a" stroke-width="1"/>
<rect x="261.96" y="1468.69" width="9.4" height="70.91" fill="url(#pg)" stroke="#3f9f3f" stroke-width="1.1"/>
<line x1="271.36" y1="1468.69" x2="271.36" y2="1539.6" stroke="#1f8a1f" stroke-width="1.2"/>
<rect x="277.9" y="1520.91" width="9" height="18.69" fill="url(#pb)" stroke="#3a3aff" stroke-width="1"/>
<rect x="287.91" y="1520.02" width="9" height="19.58" fill="url(#pr)" stroke="#ff3a3a" stroke-width="1"/>
<rect x="313.25" y="1534.26" width="9" height="5.34" fill="url(#pb)" stroke="#3a3aff" stroke-width="1"/>
<rect x="323.26" y="1534.26" width="9" height="5.34" fill="url(#pr)" stroke="#ff3a3a" stroke-width="1"/>
<rect x="348.6" y="1534.56" width="9" height="5.04" fill="url(#pb)" stroke="#3a3aff" stroke-width="1"/>
<rect x="358.61" y="1536.63" width="9" height="2.97" fill="url(#pr)" stroke="#ff3a3a" stroke-width="1"/>
<rect x="383.95" y="1538.12" width="9" height="1.48" fill="url(#pb)" stroke="#3a3aff" stroke-width="1"/>
<rect x="393.96" y="1537.23" width="9" height="2.37" fill="url(#pr)" stroke="#ff3a3a" stroke-width="1"/>
<rect x="419.3" y="1539.01" width="9" height="0.59" fill="url(#pb)" stroke="#3a3aff" stroke-width="1"/>
<rect x="429.31" y="1537.82" width="9" height="1.78" fill="url(#pr)" stroke="#ff3a3a" stroke-width="1"/>
<line x1="79.3" y1="1064.9" x2="681.4" y2="1064.9" stroke="#6c6c6c" stroke-width="1.6"/>
<line x1="680.6" y1="1064" x2="680.6" y2="1540.6" stroke="#6a6a6a" stroke-width="1.7"/>
<line x1="79.3" y1="1539.6" x2="681.45" y2="1539.6" stroke="#676767" stroke-width="2"/>
<line x1="80.5" y1="1064" x2="80.5" y2="1540.6" stroke="#8e8e8e" stroke-width="2.1"/>
<line x1="98" y1="1539.6" x2="98" y2="1536.1" stroke="#555" stroke-width="1.3"/>
<line x1="98" y1="1064.9" x2="98" y2="1068.4" stroke="#555" stroke-width="1.3"/>
<line x1="133.35" y1="1539.6" x2="133.35" y2="1536.1" stroke="#555" stroke-width="1.3"/>
<line x1="133.35" y1="1064.9" x2="133.35" y2="1068.4" stroke="#555" stroke-width="1.3"/>
<line x1="168.7" y1="1539.6" x2="168.7" y2="1536.1" stroke="#555" stroke-width="1.3"/>
<line x1="168.7" y1="1064.9" x2="168.7" y2="1068.4" stroke="#555" stroke-width="1.3"/>
<line x1="204.05" y1="1539.6" x2="204.05" y2="1536.1" stroke="#555" stroke-width="1.3"/>
<line x1="204.05" y1="1064.9" x2="204.05" y2="1068.4" stroke="#555" stroke-width="1.3"/>
<line x1="239.4" y1="1539.6" x2="239.4" y2="1536.1" stroke="#555" stroke-width="1.3"/>
<line x1="239.4" y1="1064.9" x2="239.4" y2="1068.4" stroke="#555" stroke-width="1.3"/>
<line x1="274.75" y1="1539.6" x2="274.75" y2="1536.1" stroke="#555" stroke-width="1.3"/>
<line x1="274.75" y1="1064.9" x2="274.75" y2="1068.4" stroke="#555" stroke-width="1.3"/>
<line x1="310.1" y1="1539.6" x2="310.1" y2="1536.1" stroke="#555" stroke-width="1.3"/>
<line x1="310.1" y1="1064.9" x2="310.1" y2="1068.4" stroke="#555" stroke-width="1.3"/>
<line x1="345.45" y1="1539.6" x2="345.45" y2="1536.1" stroke="#555" stroke-width="1.3"/>
<line x1="345.45" y1="1064.9" x2="345.45" y2="1068.4" stroke="#555" stroke-width="1.3"/>
<line x1="380.8" y1="1539.6" x2="380.8" y2="1536.1" stroke="#555" stroke-width="1.3"/>
<line x1="380.8" y1="1064.9" x2="380.8" y2="1068.4" stroke="#555" stroke-width="1.3"/>
<line x1="416.15" y1="1539.6" x2="416.15" y2="1536.1" stroke="#555" stroke-width="1.3"/>
<line x1="416.15" y1="1064.9" x2="416.15" y2="1068.4" stroke="#555" stroke-width="1.3"/>
<line x1="451.5" y1="1539.6" x2="451.5" y2="1536.1" stroke="#555" stroke-width="1.3"/>
<line x1="451.5" y1="1064.9" x2="451.5" y2="1068.4" stroke="#555" stroke-width="1.3"/>
<line x1="486.85" y1="1539.6" x2="486.85" y2="1536.1" stroke="#555" stroke-width="1.3"/>
<line x1="486.85" y1="1064.9" x2="486.85" y2="1068.4" stroke="#555" stroke-width="1.3"/>
<line x1="522.2" y1="1539.6" x2="522.2" y2="1536.1" stroke="#555" stroke-width="1.3"/>
<line x1="522.2" y1="1064.9" x2="522.2" y2="1068.4" stroke="#555" stroke-width="1.3"/>
<line x1="557.55" y1="1539.6" x2="557.55" y2="1536.1" stroke="#555" stroke-width="1.3"/>
<line x1="557.55" y1="1064.9" x2="557.55" y2="1068.4" stroke="#555" stroke-width="1.3"/>
<line x1="592.9" y1="1539.6" x2="592.9" y2="1536.1" stroke="#555" stroke-width="1.3"/>
<line x1="592.9" y1="1064.9" x2="592.9" y2="1068.4" stroke="#555" stroke-width="1.3"/>
<line x1="628.25" y1="1539.6" x2="628.25" y2="1536.1" stroke="#555" stroke-width="1.3"/>
<line x1="628.25" y1="1064.9" x2="628.25" y2="1068.4" stroke="#555" stroke-width="1.3"/>
<line x1="663.6" y1="1539.6" x2="663.6" y2="1536.1" stroke="#555" stroke-width="1.3"/>
<line x1="663.6" y1="1064.9" x2="663.6" y2="1068.4" stroke="#555" stroke-width="1.3"/>
<line x1="80.5" y1="1480.26" x2="84" y2="1480.26" stroke="#555" stroke-width="1.3"/>
<line x1="680.6" y1="1480.26" x2="677.1" y2="1480.26" stroke="#555" stroke-width="1.3"/>
<line x1="80.5" y1="1420.92" x2="84" y2="1420.92" stroke="#555" stroke-width="1.3"/>
<line x1="680.6" y1="1420.92" x2="677.1" y2="1420.92" stroke="#555" stroke-width="1.3"/>
<line x1="80.5" y1="1361.59" x2="84" y2="1361.59" stroke="#555" stroke-width="1.3"/>
<line x1="680.6" y1="1361.59" x2="677.1" y2="1361.59" stroke="#555" stroke-width="1.3"/>
<line x1="80.5" y1="1302.25" x2="84" y2="1302.25" stroke="#555" stroke-width="1.3"/>
<line x1="680.6" y1="1302.25" x2="677.1" y2="1302.25" stroke="#555" stroke-width="1.3"/>
<line x1="80.5" y1="1242.91" x2="84" y2="1242.91" stroke="#555" stroke-width="1.3"/>
<line x1="680.6" y1="1242.91" x2="677.1" y2="1242.91" stroke="#555" stroke-width="1.3"/>
<line x1="80.5" y1="1183.58" x2="84" y2="1183.58" stroke="#555" stroke-width="1.3"/>
<line x1="680.6" y1="1183.58" x2="677.1" y2="1183.58" stroke="#555" stroke-width="1.3"/>
<line x1="80.5" y1="1124.24" x2="84" y2="1124.24" stroke="#555" stroke-width="1.3"/>
<line x1="680.6" y1="1124.24" x2="677.1" y2="1124.24" stroke="#555" stroke-width="1.3"/>
<polyline points="80.33,1538.65 80.94,1538.61 81.56,1538.56 82.18,1538.52 82.8,1538.47 83.42,1538.42 84.04,1538.36 84.66,1538.31 85.27,1538.25 85.89,1538.18 86.51,1538.12 87.13,1538.05 87.75,1537.97 88.37,1537.89 88.99,1537.81 89.6,1537.72 90.22,1537.63 90.84,1537.53 91.46,1537.43 92.08,1537.33 92.7,1537.21 93.32,1537.1 93.93,1536.97 94.55,1536.84 95.17,1536.71 95.79,1536.56 96.41,1536.41 97.03,1536.25 97.65,1536.09 98.27,1535.92 98.88,1535.73 99.5,1535.54 100.12,1535.35 100.74,1535.14 101.36,1534.92 101.98,1534.69 102.6,1534.45 103.21,1534.2 103.83,1533.94 104.45,1533.67 105.07,1533.39 105.69,1533.09 106.31,1532.79 106.93,1532.46 107.54,1532.13 108.16,1531.78 108.78,1531.41 109.4,1531.03 110.02,1530.64 110.64,1530.23 111.26,1529.8 111.87,1529.35 112.49,1528.89 113.11,1528.41 113.73,1527.91 114.35,1527.39 114.97,1526.85 115.59,1526.29 116.21,1525.71 116.82,1525.11 117.44,1524.49 118.06,1523.84 118.68,1523.17 119.3,1522.48 119.92,1521.76 120.54,1521.02 121.15,1520.25 121.77,1519.45 122.39,1518.63 123.01,1517.78 123.63,1516.9 124.25,1516 124.87,1515.06 125.48,1514.1 126.1,1513.1 126.72,1512.08 127.34,1511.02 127.96,1509.93 128.58,1508.81 129.2,1507.65 129.81,1506.46 130.43,1505.24 131.05,1503.98 131.67,1502.68 132.29,1501.35 132.91,1499.99 133.53,1498.58 134.15,1497.14 134.76,1495.66 135.38,1494.15 136,1492.59 136.62,1491 137.24,1489.37 137.86,1487.7 138.48,1485.99 139.09,1484.24 139.71,1482.45 140.33,1480.62 140.95,1478.74 141.57,1476.83 142.19,1474.88 142.81,1472.89 143.42,1470.85 144.04,1468.78 144.66,1466.66 145.28,1464.51 145.9,1462.31 146.52,1460.07 147.14,1457.8 147.76,1455.48 148.37,1453.13 148.99,1450.73 149.61,1448.3 150.23,1445.83 150.85,1443.32 151.47,1440.77 152.09,1438.19 152.7,1435.57 153.32,1432.92 153.94,1430.23 154.56,1427.5 155.18,1424.75 155.8,1421.96 156.42,1419.14 157.03,1416.3 157.65,1413.42 158.27,1410.51 158.89,1407.58 159.51,1404.62 160.13,1401.64 160.75,1398.64 161.36,1395.61 161.98,1392.57 162.6,1389.5 163.22,1386.42 163.84,1383.32 164.46,1380.21 165.08,1377.09 165.7,1373.95 166.31,1370.81 166.93,1367.66 167.55,1364.5 168.17,1361.34 168.79,1358.18 169.41,1355.02 170.03,1351.86 170.64,1348.7 171.26,1345.55 171.88,1342.41 172.5,1339.28 173.12,1336.17 173.74,1333.06 174.36,1329.98 174.97,1326.91 175.59,1323.87 176.21,1320.84 176.83,1317.84 177.45,1314.87 178.07,1311.93 178.69,1309.03 179.31,1306.15 179.92,1303.31 180.54,1300.52 181.16,1297.76 181.78,1295.04 182.4,1292.37 183.02,1289.75 183.64,1287.18 184.25,1284.65 184.87,1282.19 185.49,1279.77 186.11,1277.42 186.73,1275.12 187.35,1272.89 187.97,1270.72 188.58,1268.61 189.2,1266.57 189.82,1264.6 190.44,1262.7 191.06,1260.88 191.68,1259.12 192.3,1257.44 192.91,1255.84 193.53,1254.32 194.15,1252.88 194.77,1251.51 195.39,1250.23 196.01,1249.04 196.63,1247.92 197.25,1246.89 197.86,1245.95 198.48,1245.1 199.1,1244.33 199.72,1243.65 200.34,1243.06 200.96,1242.56 201.58,1242.15 202.19,1241.84 202.81,1241.61 203.43,1241.47 204.05,1241.43 204.67,1241.47 205.29,1241.61 205.91,1241.84 206.52,1242.15 207.14,1242.56 207.76,1243.06 208.38,1243.65 209,1244.33 209.62,1245.1 210.24,1245.95 210.85,1246.89 211.47,1247.92 212.09,1249.04 212.71,1250.23 213.33,1251.51 213.95,1252.88 214.57,1254.32 215.19,1255.84 215.8,1257.44 216.42,1259.12 217.04,1260.88 217.66,1262.7 218.28,1264.6 218.9,1266.57 219.52,1268.61 220.13,1270.72 220.75,1272.89 221.37,1275.12 221.99,1277.42 222.61,1279.77 223.23,1282.19 223.85,1284.65 224.46,1287.18 225.08,1289.75 225.7,1292.37 226.32,1295.04 226.94,1297.76 227.56,1300.52 228.18,1303.31 228.8,1306.15 229.41,1309.03 230.03,1311.93 230.65,1314.87 231.27,1317.84 231.89,1320.84 232.51,1323.87 233.13,1326.91 233.74,1329.98 234.36,1333.06 234.98,1336.17 235.6,1339.28 236.22,1342.41 236.84,1345.55 237.46,1348.7 238.07,1351.86 238.69,1355.02 239.31,1358.18 239.93,1361.34 240.55,1364.5 241.17,1367.66 241.79,1370.81 242.4,1373.95 243.02,1377.09 243.64,1380.21 244.26,1383.32 244.88,1386.42 245.5,1389.5 246.12,1392.57 246.74,1395.61 247.35,1398.64 247.97,1401.64 248.59,1404.62 249.21,1407.58 249.83,1410.51 250.45,1413.42 251.07,1416.3 251.68,1419.14 252.3,1421.96 252.92,1424.75 253.54,1427.5 254.16,1430.23 254.78,1432.92 255.4,1435.57 256.01,1438.19 256.63,1440.77 257.25,1443.32 257.87,1445.83 258.49,1448.3 259.11,1450.73 259.73,1453.13 260.34,1455.48 260.96,1457.8 261.58,1460.07 262.2,1462.31 262.82,1464.51 263.44,1466.66 264.06,1468.78 264.68,1470.85 265.29,1472.89 265.91,1474.88 266.53,1476.83 267.15,1478.74 267.77,1480.62 268.39,1482.45 269.01,1484.24 269.62,1485.99 270.24,1487.7 270.86,1489.37 271.48,1491 272.1,1492.59 272.72,1494.15 273.34,1495.66 273.95,1497.14 274.57,1498.58 275.19,1499.99 275.81,1501.35 276.43,1502.68 277.05,1503.98 277.67,1505.24 278.28,1506.46 278.9,1507.65 279.52,1508.81 280.14,1509.93 280.76,1511.02 281.38,1512.08 282,1513.1 282.62,1514.1 283.23,1515.06 283.85,1516 284.47,1516.9 285.09,1517.78 285.71,1518.63 286.33,1519.45 286.95,1520.25 287.56,1521.02 288.18,1521.76 288.8,1522.48 289.42,1523.17 290.04,1523.84 290.66,1524.49 291.28,1525.11 291.89,1525.71 292.51,1526.29 293.13,1526.85 293.75,1527.39 294.37,1527.91 294.99,1528.41 295.61,1528.89 296.23,1529.35 296.84,1529.8 297.46,1530.23 298.08,1530.64 298.7,1531.03 299.32,1531.41 299.94,1531.78 300.56,1532.13 301.17,1532.46 301.79,1532.79 302.41,1533.09 303.03,1533.39 303.65,1533.67 304.27,1533.94 304.89,1534.2 305.5,1534.45 306.12,1534.69 306.74,1534.92 307.36,1535.14 307.98,1535.35 308.6,1535.54 309.22,1535.73 309.83,1535.92 310.45,1536.09 311.07,1536.25 311.69,1536.41 312.31,1536.56 312.93,1536.71 313.55,1536.84 314.17,1536.97 314.78,1537.1 315.4,1537.21 316.02,1537.33 316.64,1537.43 317.26,1537.53 317.88,1537.63 318.5,1537.72 319.11,1537.81 319.73,1537.89 320.35,1537.97 320.97,1538.05 321.59,1538.12 322.21,1538.18 322.83,1538.25 323.44,1538.31 324.06,1538.36 324.68,1538.42 325.3,1538.47 325.92,1538.52 326.54,1538.56 327.16,1538.61 327.77,1538.65" fill="none" stroke="#6cbe6c" stroke-width="1.6"/>
<text x="0" y="5.01" font-size="14" fill="#2e2e2e" stroke="#3a3a3a" stroke-width="0.3" text-anchor="end" transform="translate(72.3,1539.6) scale(1,1.2)">0</text>
<text x="0" y="5.01" font-size="14" fill="#2e2e2e" stroke="#3a3a3a" stroke-width="0.3" text-anchor="end" transform="translate(72.3,1480.26) scale(1,1.2)">20000</text>
<text x="0" y="5.01" font-size="14" fill="#2e2e2e" stroke="#3a3a3a" stroke-width="0.3" text-anchor="end" transform="translate(72.3,1420.92) scale(1,1.2)">40000</text>
<text x="0" y="5.01" font-size="14" fill="#2e2e2e" stroke="#3a3a3a" stroke-width="0.3" text-anchor="end" transform="translate(72.3,1361.59) scale(1,1.2)">60000</text>
<text x="0" y="5.01" font-size="14" fill="#2e2e2e" stroke="#3a3a3a" stroke-width="0.3" text-anchor="end" transform="translate(72.3,1302.25) scale(1,1.2)">80000</text>
<text x="0" y="5.01" font-size="14" fill="#2e2e2e" stroke="#3a3a3a" stroke-width="0.3" text-anchor="end" transform="translate(72.3,1242.91) scale(1,1.2)">100000</text>
<text x="0" y="5.01" font-size="14" fill="#2e2e2e" stroke="#3a3a3a" stroke-width="0.3" text-anchor="end" transform="translate(72.3,1183.58) scale(1,1.2)">120000</text>
<text x="0" y="5.01" font-size="14" fill="#2e2e2e" stroke="#3a3a3a" stroke-width="0.3" text-anchor="end" transform="translate(72.3,1124.24) scale(1,1.2)">140000</text>
<text x="0" y="5.01" font-size="14" fill="#2e2e2e" stroke="#3a3a3a" stroke-width="0.3" text-anchor="end" transform="translate(72.3,1064.9) scale(1,1.2)">160000</text>
<text x="0" y="5.01" font-size="14" fill="#2e2e2e" stroke="#3a3a3a" stroke-width="0.3" text-anchor="middle" transform="translate(97,1555.7) scale(1,1.2)">-3</text>
<text x="0" y="5.01" font-size="14" fill="#2e2e2e" stroke="#3a3a3a" stroke-width="0.3" text-anchor="middle" transform="translate(167.7,1555.7) scale(1,1.2)">-1</text>
<text x="0" y="5.01" font-size="14" fill="#2e2e2e" stroke="#3a3a3a" stroke-width="0.3" text-anchor="middle" transform="translate(238.9,1555.7) scale(1,1.2)">1</text>
<text x="0" y="5.01" font-size="14" fill="#2e2e2e" stroke="#3a3a3a" stroke-width="0.3" text-anchor="middle" transform="translate(309.6,1555.7) scale(1,1.2)">3</text>
<text x="0" y="5.01" font-size="14" fill="#2e2e2e" stroke="#3a3a3a" stroke-width="0.3" text-anchor="middle" transform="translate(380.3,1555.7) scale(1,1.2)">5</text>
<text x="0" y="5.01" font-size="14" fill="#2e2e2e" stroke="#3a3a3a" stroke-width="0.3" text-anchor="middle" transform="translate(451,1555.7) scale(1,1.2)">7</text>
<text x="0" y="5.01" font-size="14" fill="#2e2e2e" stroke="#3a3a3a" stroke-width="0.3" text-anchor="middle" transform="translate(521.7,1555.7) scale(1,1.2)">9</text>
<text x="0" y="5.01" font-size="14" fill="#2e2e2e" stroke="#3a3a3a" stroke-width="0.3" text-anchor="middle" transform="translate(592.4,1555.7) scale(1,1.2)">11</text>
<text x="0" y="5.01" font-size="14" fill="#2e2e2e" stroke="#3a3a3a" stroke-width="0.3" text-anchor="middle" transform="translate(663.1,1555.7) scale(1,1.2)">13</text>
<text x="0" y="5.26" font-size="14.6" fill="#2e2e2e" stroke="#3a3a3a" stroke-width="0.3" text-anchor="middle" transform="translate(7.6,1302.25) rotate(-90) scale(1,1.1)">No of obs</text>
<rect x="286.1" y="1320.5" width="30.1" height="18.3" fill="url(#pb)" stroke="#3a3aff" stroke-width="1.2"/>
<line x1="286.1" y1="1320.5" x2="316.2" y2="1338.8" stroke="#3a3aff" stroke-width="1.1"/>
<rect x="388.6" y="1320.5" width="30.1" height="18.3" fill="url(#pr)" stroke="#ff3a3a" stroke-width="1.2"/>
<line x1="388.6" y1="1320.5" x2="418.7" y2="1338.8" stroke="#ff3a3a" stroke-width="1.1"/>
<rect x="491.3" y="1320.5" width="30.1" height="18.3" fill="url(#pg)" stroke="#3fa33f" stroke-width="1.2"/>
<line x1="491.3" y1="1320.5" x2="521.4" y2="1338.8" stroke="#3fa33f" stroke-width="1.1"/>
<text x="322.05" y="1335.3" font-size="18.6" fill="#161616" stroke="#161616" stroke-width="0.4" textLength="22.03" lengthAdjust="spacingAndGlyphs">Sh</text>
<text x="347.22" y="1341.3" font-size="15.8" fill="#161616" stroke="#161616" stroke-width="0.4" textLength="6.44" lengthAdjust="spacingAndGlyphs">5</text>
<text x="357.74" y="1341.3" font-size="15.8" fill="#161616" stroke="#161616" stroke-width="0.4">i</text>
<text x="424.26" y="1333.8" font-size="18.6" fill="#161616" stroke="#161616" stroke-width="0.4" textLength="21.81" lengthAdjust="spacingAndGlyphs">Sh</text>
<text x="446.46" y="1344.4" font-size="15.8" fill="#161616" stroke="#161616" stroke-width="0.4" textLength="8.22" lengthAdjust="spacingAndGlyphs">5</text>
<text x="457.35" y="1344.4" font-size="15.8" fill="#161616" stroke="#161616" stroke-width="0.4">j</text>
<text x="528.4" y="1322.1" font-size="15.7" fill="#161616" stroke="#161616" stroke-width="0.4" textLength="33.98" lengthAdjust="spacingAndGlyphs">ANN</text>
<text x="565.03" y="1333.2" font-size="18.6" fill="#161616" stroke="#161616" stroke-width="0.4" textLength="22.47" lengthAdjust="spacingAndGlyphs">Sh</text>
<text x="588.95" y="1340.8" font-size="15.8" fill="#161616" stroke="#161616" stroke-width="0.4" textLength="8.34" lengthAdjust="spacingAndGlyphs">5</text>
</svg>
</body></html>
